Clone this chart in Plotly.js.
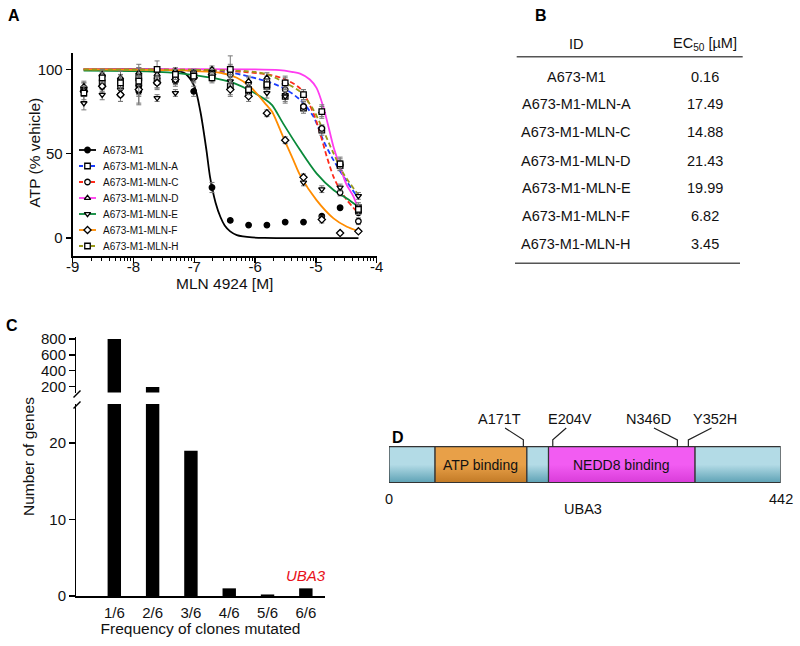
<!DOCTYPE html>
<html><head><meta charset="utf-8">
<script src="https://cdn.plot.ly/plotly-3.0.1.min.js"></script>
<style>body{margin:0;padding:0;background:#fff}#g{width:800px;height:646px}</style>
</head><body><div id="g"></div>
<script>
// ---------- Panel A data ----------
const logConc = [-8.816,-8.515,-8.214,-7.913,-7.612,-7.311,-7.010,-6.709,-6.408,-6.107,-5.806,-5.505,-5.204,-4.903,-4.602,-4.301];
const seriesNames = ['A673-M1','A673-M1-MLN-A','A673-M1-MLN-C','A673-M1-MLN-D','A673-M1-MLN-E','A673-M1-MLN-F','A673-M1-MLN-H'];
const atpM1 = [89,96,85,87,92,93,87,30,10.5,7.7,7.7,9.5,9.5,13,18,15];
const atpA  = [88,92,93,95,93,95,97,97,90,87,90,84,77,64,43,18];
const atpC  = [87,90,90,90,95,97,98,98,97,92,93,88,78,65,27,10];
const atpD  = [90,97,95,98,97,99,98,100,100,93,95,92,85,75,44,16];
const atpE  = [80,85,88,90,83,86,96,95,93,88,86,84,33,29,30,25];
const atpF  = [87,90,85,88,92,94,95,97,88,84,74,58,36,11,3,4];
const atpH  = [86,95,92,93,100,97,96,95,100,88,91,92,85,75,44,17];
const errM1 = [3,3,4,8,3,3,3,3,1,1,1,1,1,1,1,1];
const errA  = [4,3,4,6,4,3,3,3,5,3,3,4,3,3,3,3];
const errC  = [3,4,4,6,4,3,2,3,5,3,3,3,3,2,2,2];
const errD  = [3,3,4,5,3,2,2,2,3,3,3,3,3,3,3,2];
const errE  = [4,3,3,5,2,2,2,2,3,3,3,3,2,2,2,2];
const errF  = [3,3,4,8,4,3,3,3,4,3,2,2,2,2,1,1];
const errH  = [4,3,4,8,5,3,3,3,8,3,3,4,3,4,4,3];
// fitted curves
const fitM1x = [-8.82,-7.6,-7.3,-7.15,-7.0,-6.9,-6.8,-6.74,-6.65,-6.57,-6.5,-6.41,-6.3,-6.2,-6.05,-5.85,-5.5,-4.3];
const fitM1y = [100,100,99.4,97.5,90,75,52,36,21,12.5,7.5,4,1.8,1,0.4,0.1,0,0];
const fitAx = [-8.82,-7.3,-6.4,-5.82,-5.54,-5.26,-5.04,-4.88,-4.71,-4.49,-4.3];
const fitAy = [100,99.5,98,93,89,82,72,58,46.2,33.4,23.5];
const fitCx = [-8.82,-7.0,-6.4,-5.8,-5.54,-5.26,-5.04,-4.93,-4.82,-4.71,-4.6,-4.49,-4.3];
const fitCy = [100,99.8,99,97,94.6,88.7,74,62,48.2,36.3,28.5,22.5,14.6];
const fitDx = [-8.82,-6.0,-5.6,-5.4,-5.26,-5.1,-4.99,-4.88,-4.8,-4.71,-4.6,-4.5,-4.38,-4.3];
const fitDy = [100,100,99.5,98.5,97.5,94,89,78,67,54,42,32,24.5,17];
const fitEx = [-8.82,-7.6,-7.0,-6.42,-6.12,-5.82,-5.72,-5.54,-5.26,-4.99,-4.71,-4.49,-4.3];
const fitEy = [99.2,98.5,96.6,92.7,88.1,81.8,78.8,68,52.2,38.4,28.5,23.5,18.5];
const fitFx = [-8.82,-7.3,-7.0,-6.57,-6.3,-6.08,-5.81,-5.72,-5.54,-5.37,-5.26,-4.99,-4.71,-4.49,-4.3];
const fitFy = [100,99.5,99,98,95,89.7,78.8,74.9,60,46.2,37.3,22.5,11.7,6.7,4.1];
const fitHx = [-8.82,-6.5,-6.0,-5.8,-5.54,-5.26,-5.04,-4.88,-4.71,-4.55,-4.3];
const fitHy = [100,99.5,98.5,97,92.7,86.8,76,64,50.2,38.4,25.5];
const xTicksA = [-9,-8,-7,-6,-5,-4];
const yTicksA = [0,50,100];

// ---------- Panel B data ----------
const tableIds = ['A673-M1','A673-M1-MLN-A','A673-M1-MLN-C','A673-M1-MLN-D','A673-M1-MLN-E','A673-M1-MLN-F','A673-M1-MLN-H'];
const tableEC50 = ['0.16','17.49','14.88','21.43','19.99','6.82','3.45'];

// ---------- Panel C data ----------
const freqCats = ['1/6','2/6','3/6','4/6','5/6','6/6'];
const geneCounts = [800,190,19,1,0.2,1];

// ---------- Panel D data ----------
const protLen = 442;
const segStart = [0,52,155.6,180,345.4];
const segEnd   = [52,155.6,180,345.4,442];
const segName  = ['','ATP binding','','NEDD8 binding',''];
const mutNames = ['A171T','E204V','N346D','Y352H'];
const mutPos   = [151.6,184.8,325.4,337.8];
const mutLabelPos = [125,204,293,368];

const FONT = 'Arial, "Liberation Sans", Helvetica, sans-serif';
const colors = ['#000000','#1a3cff','#ff2a1a','#ff3cf0','#0a8a3a','#ff8c00','#9a9a1a'];
const dashes = ['solid','5px,3px','5px,3px','solid','solid','solid','5px,3px'];
const symbols = ['circle','square','circle','triangle-up','triangle-down','diamond','square'];
const fills = ['#000','#fff','#fff','#fff','#fff','#fff','#fff'];
const atps = [atpM1,atpA,atpC,atpD,atpE,atpF,atpH];
const errs = [errM1,errA,errC,errD,errE,errF,errH];
const fitsX = [fitM1x,fitAx,fitCx,fitDx,fitEx,fitFx,fitHx];
const fitsY = [fitM1y,fitAy,fitCy,fitDy,fitEy,fitFy,fitHy];

const traces = [];
for (let i=0;i<7;i++){
  traces.push({x:fitsX[i], y:fitsY[i], xaxis:'x', yaxis:'y', mode:'lines', type:'scatter', name:seriesNames[i],
    line:{color:colors[i], width:1.8, dash:dashes[i], shape:'spline', smoothing:0.8},
    showlegend:false, hoverinfo:'skip'});
}
for (let i=0;i<7;i++){
  traces.push({x:logConc, y:atps[i], xaxis:'x', yaxis:'y', mode:'markers', type:'scatter', name:seriesNames[i],
    marker:{symbol:symbols[i], size:5.5, color:fills[i], line:{color:'#000', width:1.3}},
    error_y:{type:'data', array:errs[i], visible:true, color:'#777', thickness:1, width:2.5},
    showlegend:false});
}
// manual legend (rows by index on a hidden axis)
for (let i=0;i<7;i++){
  traces.push({x:[0,1], y:[i,i], xaxis:'x5', yaxis:'y5', mode:'lines', type:'scatter',
    line:{color:colors[i], width:1.8, dash:dashes[i]==='solid'?'solid':'4px,2px'}, showlegend:false, hoverinfo:'skip'});
  traces.push({x:[0.5], y:[i], xaxis:'x5', yaxis:'y5', mode:'markers', type:'scatter',
    marker:{symbol:symbols[i], size:5.5, color:fills[i], line:{color:'#000', width:1.3}}, showlegend:false, hoverinfo:'skip'});
}
// Panel C bars (lower and upper segment of the broken axis)
traces.push({type:'bar', x:freqCats, y:geneCounts, xaxis:'x2', yaxis:'y2', width:0.35, marker:{color:'#000'}, showlegend:false});
traces.push({type:'bar', x:freqCats, y:geneCounts, xaxis:'x3', yaxis:'y3', width:0.35, marker:{color:'#000'}, showlegend:false});

// Panel D segments
const segFill = {'':['#5ea2b5','#b3dbe6'], 'ATP binding':['#c27a26','#e8a048'], 'NEDD8 binding':['#d93cd9','#f25cf2']};
for (let i=0;i<segStart.length;i++){
  const c = segFill[segName[i]];
  traces.push({type:'scatter', x:[segStart[i],segEnd[i],segEnd[i],segStart[i],segStart[i]], y:[0,0,1,1,0],
    xaxis:'x4', yaxis:'y4', mode:'lines', fill:'toself',
    fillgradient:{type:'vertical', colorscale:[[0,c[0]],[0.5,c[1]],[1,c[1]]]},
    line:{color:'#333', width:1.2}, showlegend:false, hoverinfo:'skip'});
}
for (let i=0;i<mutNames.length;i++){
  traces.push({type:'scatter', x:[mutLabelPos[i]+(mutPos[i]>mutLabelPos[i]?6:-4), mutPos[i], mutPos[i]], y:[1.52,1.19,1.0],
    xaxis:'x4', yaxis:'y4', mode:'lines', line:{color:'#222', width:1.2}, showlegend:false, hoverinfo:'skip'});
}

const annotations = [];
const px = (x)=>x/800, py=(y)=>1-y/646;
function ann(o){ annotations.push(Object.assign({showarrow:false, xanchor:'center', yanchor:'middle'}, o)); }
[['A',14,15],['B',541,15],['C',12,325],['D',398,437]].forEach(l=>{
  ann({text:'<b>'+l[0]+'</b>', x:px(l[1]), y:py(l[2]), xref:'paper', yref:'paper', font:{family:FONT,size:16,color:'#000'}});
});
// legend texts
seriesNames.forEach((n,i)=>{
  ann({text:n, x:px(101), y:i, xref:'paper', yref:'y5', xanchor:'left', font:{family:FONT,size:10,color:'#111'}});
});
// Y title of panel A
ann({text:'ATP (% vehicle)', x:px(34.5), y:py(153), xref:'paper', yref:'paper', textangle:-90, font:{family:FONT,size:15.5,color:'#111'}});
// table
ann({text:'ID', x:px(576), y:py(43.5), xref:'paper', yref:'paper', font:{family:FONT,size:14.5,color:'#111'}});
ann({text:'EC<sub>50</sub> [µM]', x:px(705), y:py(43.5), xref:'paper', yref:'paper', font:{family:FONT,size:14.5,color:'#111'}});
const rowY = [76.7,104.3,132.3,160.5,188.3,216,244.3];
tableIds.forEach((id,i)=>{
  ann({text:id, x:px(576), y:py(rowY[i]), xref:'paper', yref:'paper', font:{family:FONT,size:14.5,color:'#111'}});
  ann({text:tableEC50[i], x:px(705), y:py(rowY[i]), xref:'paper', yref:'paper', font:{family:FONT,size:14.5,color:'#111'}});
});
ann({text:'Number of genes', x:px(29), y:py(457), xref:'paper', yref:'paper', textangle:-90, font:{family:FONT,size:15.5,color:'#111'}});
ann({text:'<i>UBA3</i>', x:'6/6', y:geneCounts[5], xref:'x2', yref:'y2', yanchor:'bottom', yshift:2, font:{family:FONT,size:15,color:'#e8101a'}});
segName.forEach((n,i)=>{ if(n) ann({text:n, x:(segStart[i]+segEnd[i])/2, y:0.5, xref:'x4', yref:'y4', font:{family:FONT,size:14,color:'#111'}}); });
mutNames.forEach((n,i)=>{
  ann({text:n, x:mutLabelPos[i], y:1.77, xref:'x4', yref:'y4', font:{family:FONT,size:14.5,color:'#111'}});
});
ann({text:'0', x:0, y:py(498.5), xref:'x4', yref:'paper', font:{family:FONT,size:14.5,color:'#111'}});
ann({text:String(protLen), x:protLen, y:py(498.5), xref:'x4', yref:'paper', font:{family:FONT,size:14.5,color:'#111'}});
ann({text:'UBA3', x:px(583), y:py(509), xref:'paper', yref:'paper', font:{family:FONT,size:14.5,color:'#111'}});

const shapes = [
  {type:'line', xref:'paper', yref:'paper', x0:px(516.7), x1:px(742.7), y0:py(56.7), y1:py(56.7), line:{color:'#555',width:1.5}},
  {type:'line', xref:'paper', yref:'paper', x0:px(515), x1:px(740), y0:py(263.3), y1:py(263.3), line:{color:'#555',width:1.5}},
  {type:'line', xref:'paper', yref:'paper', x0:px(73.5), x1:px(80.5), y0:py(397.5), y1:py(390.5), line:{color:'#000',width:1.5}},
  {type:'line', xref:'paper', yref:'paper', x0:px(73.5), x1:px(80.5), y0:py(408.5), y1:py(401.5), line:{color:'#000',width:1.5}}
];

const minorA = [];
for (let d=-9; d<-4; d++) for (let k=2;k<10;k++) minorA.push(d+Math.log10(k));

const axisBase = {showline:true, linecolor:'#000', linewidth:1.5, ticks:'outside', ticklen:5.5, tickwidth:1.5, tickcolor:'#000',
  showgrid:false, zeroline:false, tickfont:{family:FONT,size:15,color:'#111'}, fixedrange:true};

const layout = {
  width:800, height:646, margin:{l:0,r:0,t:0,b:0}, paper_bgcolor:'#fff', plot_bgcolor:'rgba(0,0,0,0)',
  font:{family:FONT, color:'#111'}, showlegend:false,
  xaxis:Object.assign({}, axisBase, {domain:[px(72.7),px(376.7)], range:[-9,-4], tickmode:'array', tickvals:xTicksA,
    ticktext:xTicksA.map(String), anchor:'y', ticklabelstandoff:-9,
    minor:{tickmode:'array', tickvals:minorA, ticks:'outside', ticklen:3, tickwidth:1, tickcolor:'#000'},
    title:{text:'MLN 4924 [M]', font:{family:FONT,size:15.5,color:'#111'}, standoff:1}}),
  yaxis:Object.assign({}, axisBase, {domain:[py(256),py(53)], range:[-10.6,109.7], tickmode:'array', tickvals:yTicksA, anchor:'x'}),
  xaxis2:Object.assign({}, axisBase, {domain:[px(76),px(325)], type:'category', range:[-1,5.5], ticks:'', anchor:'y2',
    ticklabelstandoff:2,
    title:{text:'Frequency of clones mutated', font:{family:FONT,size:15.5,color:'#111'}, standoff:3}}),
  yaxis2:Object.assign({}, axisBase, {domain:[py(596),py(404)], range:[0,25.1], tickmode:'array', tickvals:[0,10,20], anchor:'x2'}),
  xaxis3:{domain:[px(76),px(325)], type:'category', range:[-1,5.5], anchor:'y3', visible:false, fixedrange:true},
  yaxis3:Object.assign({}, axisBase, {domain:[py(392.5),py(337)], range:[121,826], tickmode:'array', tickvals:[200,400,600,800], anchor:'x3'}),
  xaxis4:{domain:[px(389),px(780.7)], range:[0,protLen], anchor:'y4', visible:false, fixedrange:true},
  yaxis4:{domain:[py(483),py(405)], range:[-0.01,2.16], anchor:'x4', visible:false, fixedrange:true},
  xaxis5:{domain:[px(79),px(96)], range:[0,1], anchor:'y5', visible:false, fixedrange:true},
  yaxis5:{domain:[py(254),py(142)], range:[6.5,-0.5], anchor:'x5', visible:false, fixedrange:true},
  annotations:annotations, shapes:shapes
};
Plotly.newPlot('g', traces, layout, {staticPlot:true, displayModeBar:false});
</script></body></html>
